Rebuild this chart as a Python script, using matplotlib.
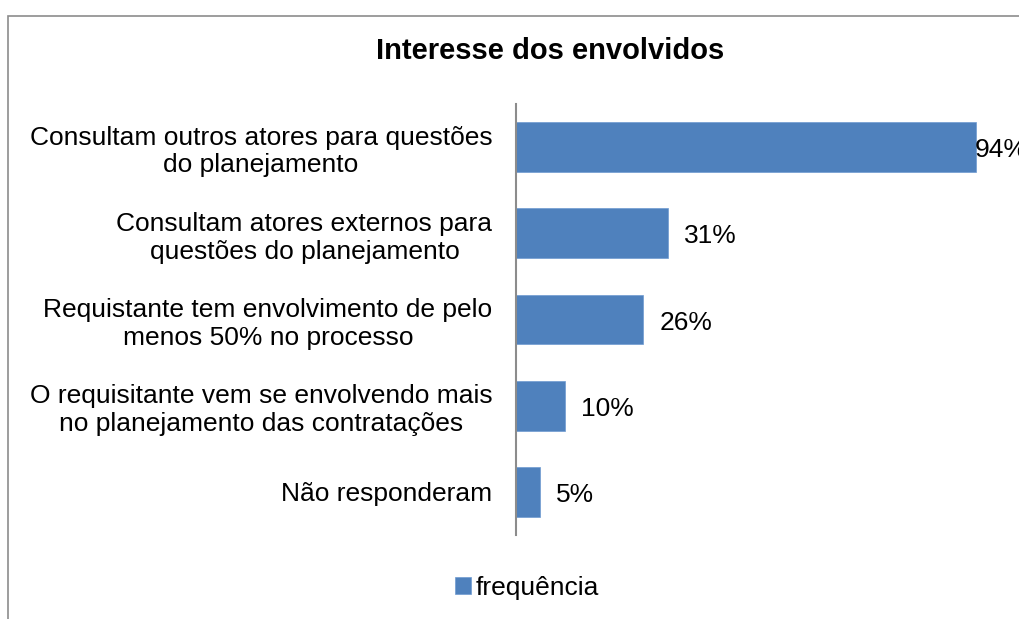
import matplotlib
matplotlib.use('Agg')
import matplotlib.pyplot as plt
from matplotlib.patches import Rectangle

categories = [
    'Consultam outros atores para questões\ndo planejamento',
    'Consultam atores externos para\nquestões do planejamento',
    'Requistante tem envolvimento de pelo\nmenos 50% no processo',
    'O requisitante vem se envolvendo mais\nno planejamento das contratações',
    'Não responderam',
]
values = [94, 31, 26, 10, 5]
series_name = 'frequência'
title = 'Interesse dos envolvidos'

bar_color = '#4F81BD'
W, H = 1020, 619
fs = 19

plt.rcParams['font.family'] = ['Liberation Sans', 'DejaVu Sans']

fig = plt.figure(figsize=(W / 100, H / 100), dpi=100)
# chart border (cut off on the right and bottom like the reference)
fig.patches.append(Rectangle((8 / W, -0.1), 1.2, 1.1 - 16 / H, transform=fig.transFigure,
                             fill=False, edgecolor='#8c8c8c', linewidth=1.2))

ax = fig.add_axes([516 / W, (H - 535) / H, (1005 - 516) / W, (535 - 104) / H])
ypos = list(range(len(categories)))
ax.barh(ypos, values, height=0.58, color=bar_color, edgecolor='#6f9bd1', linewidth=0.5,
        label=series_name)
ax.set_xlim(0, 100)
ax.set_ylim(len(categories) - 0.5, -0.5)
ax.set_yticks(ypos)
ax.set_yticklabels(categories, fontsize=fs, multialignment='center', linespacing=1.2)
ax.tick_params(axis='y', length=0, pad=17)
ax.set_xticks([])
for side in ['top', 'right', 'bottom']:
    ax.spines[side].set_visible(False)
ax.spines['left'].set_color('#8c8c8c')
ax.spines['left'].set_linewidth(1.5)

for y, v in zip(ypos, values):
    off = 16 if v < 90 else -1
    ax.annotate(f'{v}%', (v, y), xytext=(off, -3), textcoords='offset pixels',
                va='center', ha='left', fontsize=fs, annotation_clip=False)

fig.text(550 / W, 1 - 51 / H, title, ha='center', va='center', fontsize=21, fontweight='bold')

leg = fig.legend(loc='center', bbox_to_anchor=(527 / W, 1 - 588 / H), frameon=False,
                 fontsize=fs, handlelength=0.6, handleheight=0.6, handletextpad=0.2)

plt.savefig('out.png', dpi=100)
